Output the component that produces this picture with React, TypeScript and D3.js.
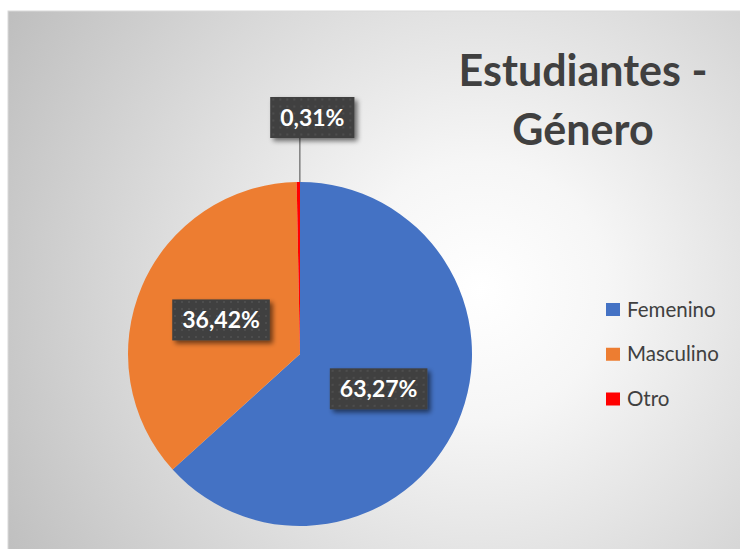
import React, { useLayoutEffect, useRef, useState } from "react";
import * as d3 from "d3";

const categories = ["Femenino", "Masculino", "Otro"];
const values = [63.27, 36.42, 0.31];
const valueLabels = ["63,27%", "36,42%", "0,31%"];
const colors = ["#4472C4", "#ED7D31", "#FF0000"];
const titleLines = ["Estudiantes -", "Género"];

const FONT = "Lato, 'Open Sans', sans-serif";

export default function App() {
  const W = 740, H = 549;
  const cx = 300, cy = 354, R = 172;
  const pieData = d3.pie<number>().sort(null).value((d) => d)(values);
  const arc = d3.arc<d3.PieArcDatum<number>>().innerRadius(0).outerRadius(R);
  const labelArc = d3.arc<d3.PieArcDatum<number>>().innerRadius(0).outerRadius(R);

  const textRefs = useRef<(SVGTextElement | null)[]>([]);
  const [widths, setWidths] = useState<number[]>(valueLabels.map(() => 78));
  useLayoutEffect(() => {
    const w = textRefs.current.map((t) => (t ? t.getComputedTextLength() : 78));
    setWidths(w);
  }, []);

  const legendY = d3.scalePoint<string>().domain(categories).range([309.5, 399]);

  return (
    <svg width={W} height={H} style={{ position: "absolute", left: 0, top: 0 }}>
      <defs>
        <radialGradient id="bg" gradientUnits="userSpaceOnUse" cx={480} cy={290} r={580}>
          <stop offset="0" stopColor="#ffffff" />
          <stop offset="0.22" stopColor="#f6f6f6" />
          <stop offset="1" stopColor="#bababa" />
        </radialGradient>
        <pattern id="dots" width={7} height={7} patternUnits="userSpaceOnUse">
          <rect width={7} height={7} fill="#404040" />
          <rect x={2} y={2} width={2} height={2} fill="#4e4e4e" />
        </pattern>
        <filter id="shadow" x="-20%" y="-20%" width="150%" height="160%">
          <feGaussianBlur in="SourceAlpha" stdDeviation={2.5} />
          <feOffset dx={3} dy={3} result="b" />
          <feComponentTransfer>
            <feFuncA type="linear" slope={0.55} />
          </feComponentTransfer>
          <feMerge>
            <feMergeNode />
            <feMergeNode in="SourceGraphic" />
          </feMerge>
        </filter>
      </defs>
      <rect x={8} y={11} width={W} height={H} fill="url(#bg)" stroke="#d9d9d9" strokeWidth={1} />

      {/* title */}
      {titleLines.map((t, i) => (
        <text
          key={i}
          x={583}
          y={86 + i * 59}
          textAnchor="middle"
          fontFamily={FONT}
          fontWeight={700}
          fontSize={43}
          fill="#404040"
        >
          {t}
        </text>
      ))}

      {/* pie */}
      <g transform={`translate(${cx},${cy})`}>
        {pieData.map((d, i) => (
          <path key={i} d={arc(d) || ""} fill={colors[i]} />
        ))}
        {/* leader line for tiny slice */}
        {(() => {
          const d = pieData[2];
          const a = (d.startAngle + d.endAngle) / 2;
          const px = Math.sin(a) * R + 1.5;
          const py = -Math.cos(a) * R;
          return <line x1={px} y1={py} x2={px} y2={py - 44} stroke="#7f7f7f" strokeWidth={1.5} />;
        })()}
        {pieData.map((d, i) => {
          let x: number, y: number;
          if (i === 2) {
            const a = (d.startAngle + d.endAngle) / 2;
            x = Math.sin(a) * R + 14;
            y = -Math.cos(a) * R - 64.5;
          } else {
            [x, y] = labelArc.centroid(d);
          }
          const w = widths[i] + 20;
          const h = 41;
          return (
            <g key={i} transform={`translate(${x},${y})`}>
              <rect x={-w / 2} y={-h / 2} width={w} height={h} fill="url(#dots)" filter="url(#shadow)" />
              <text
                ref={(el) => {
                  textRefs.current[i] = el;
                }}
                x={0}
                y={8}
                textAnchor="middle"
                fontFamily={FONT}
                fontWeight={700}
                fontSize={23}
                fill="#ffffff"
              >
                {valueLabels[i]}
              </text>
            </g>
          );
        })}
      </g>

      {/* legend */}
      {categories.map((c, i) => (
        <g key={c} transform={`translate(606,${legendY(c)})`}>
          <rect x={0} y={-6.5} width={14} height={13} fill={colors[i]} />
          <text x={21} y={7} fontFamily={FONT} fontSize={20.5} fill="#404040">
            {c}
          </text>
        </g>
      ))}
    </svg>
  );
}
